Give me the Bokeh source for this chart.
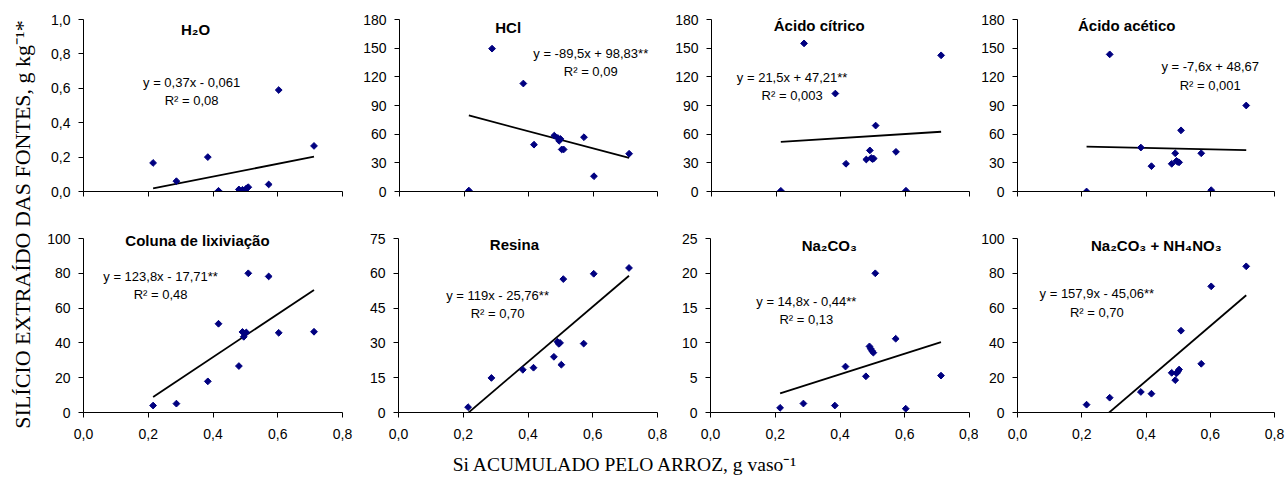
import numpy as np
from bokeh.plotting import figure
from bokeh.models import Range1d, FixedTicker, CustomJSTickFormatter, Label
from bokeh.layouts import row, column
from bokeh.embed import file_html
from bokeh.resources import INLINE

# ---------------- data ----------------
si_arroz = [0.215, 0.287, 0.384, 0.417, 0.480, 0.491, 0.495, 0.499, 0.503, 0.509, 0.572, 0.603, 0.712]

h2o = [0.166, 0.060, 0.200, 0.004, 0.012, 0.010, 0.003, 0.006, 0.018, 0.025, 0.041, 0.590, 0.265]
hcl = [1.0, 149.5, 113.0, 49.0, 58.5, 56.0, 53.0, 55.0, 44.0, 44.0, 56.8, 16.0, 39.5]
acido_citrico = [0.7, 155.0, 102.5, 29.0, 33.5, 43.0, 35.0, 34.0, 34.5, 69.0, 41.5, 0.8, 142.5]
acido_acetico = [0.0, 143.5, 46.0, 26.5, 29.0, 40.0, 32.0, 31.0, 30.5, 64.0, 40.0, 1.4, 90.0]
coluna = [4.0, 5.1, 17.9, 51.0, 26.7, 46.3, 43.5, 45.5, 46.0, 80.0, 78.2, 45.8, 46.4]
resina = [2.3, 14.9, 18.4, 19.3, 24.0, 30.5, 29.6, 30.0, 20.6, 57.5, 29.7, 59.8, 62.3]
na2co3 = [0.67, 1.29, 1.0, 6.6, 5.2, 9.5, 9.15, 8.85, 8.6, 20.0, 10.6, 0.55, 5.3]
na2co3_nh4no3 = [4.5, 8.5, 11.8, 10.8, 22.8, 18.6, 22.5, 23.5, 24.7, 47.0, 28.0, 72.5, 84.0]

series = [h2o, hcl, acido_citrico, acido_acetico, coluna, resina, na2co3, na2co3_nh4no3]
titles = ["H\u2082O", "HCl", "\u00c1cido c\u00edtrico", "\u00c1cido ac\u00e9tico",
          "Coluna de lixivia\u00e7\u00e3o", "Resina", "Na\u2082CO\u2083", "Na\u2082CO\u2083 + NH\u2084NO\u2083"]
slopes = [0.37, -89.5, 21.5, -7.6, 123.8, 119.0, 14.8, 157.9]
intercepts = [-0.061, 98.83, 47.21, 48.67, -17.71, -25.76, -0.44, -45.06]
equations = ["y = 0,37x - 0,061", "y = -89,5x + 98,83**", "y = 21,5x + 47,21**", "y = -7,6x + 48,67",
             "y = 123,8x - 17,71**", "y = 119x - 25,76**", "y = 14,8x - 0,44**", "y = 157,9x - 45,06**"]
r2_texts = ["R\u00b2 = 0,08", "R\u00b2 = 0,09", "R\u00b2 = 0,003", "R\u00b2 = 0,001",
            "R\u00b2 = 0,48", "R\u00b2 = 0,70", "R\u00b2 = 0,13", "R\u00b2 = 0,70"]

x_ticks = [0.0, 0.2, 0.4, 0.6, 0.8]
x_tick_labels = ["0,0", "0,2", "0,4", "0,6", "0,8"]
y_ticks = [
    [0.0, 0.2, 0.4, 0.6, 0.8, 1.0],
    [0, 30, 60, 90, 120, 150, 180],
    [0, 30, 60, 90, 120, 150, 180],
    [0, 30, 60, 90, 120, 150, 180],
    [0, 20, 40, 60, 80, 100],
    [0, 15, 30, 45, 60, 75],
    [0, 5, 10, 15, 20, 25],
    [0, 20, 40, 60, 80, 100],
]
y_tick_labels = [
    ["0,0", "0,2", "0,4", "0,6", "0,8", "1,0"],
    ["0", "30", "60", "90", "120", "150", "180"],
    ["0", "30", "60", "90", "120", "150", "180"],
    ["0", "30", "60", "90", "120", "150", "180"],
    ["0", "20", "40", "60", "80", "100"],
    ["0", "15", "30", "45", "60", "75"],
    ["0", "5", "10", "15", "20", "25"],
    ["0", "20", "40", "60", "80", "100"],
]
y_label = "SIL\u00cdCIO EXTRA\u00cdDO DAS FONTES, g kg\u207b\u00b9*"
x_label = "Si ACUMULADO PELO ARROZ, g vaso\u207b\u00b9"

# ---------------- layout / annotation placement ----------------
col_borders = [(46, 18), (38, 15), (38, 9), (37, 12)]
frame_w = 259
# (top border, axis height in px, bottom border)
row_borders = [(7, 172, 19), (16, 174, 33)]
ext_px = 12          # free space inside the frame above the top tick (for titles)
ylab_w = 37

# (title x, title y, eq x, eq y, r2 y) in data units of each panel
placements = [
    (0.346, 0.942, 0.334, 0.634, 0.529),
    (0.337, 171.6, 0.593, 144.4, 125.6),
    (0.334, 173.7, 0.250, 119.3, 100.5),
    (0.340, 173.7, 0.600, 130.8, 110.9),
    (0.352, 98.9, 0.238, 78.2, 67.8),
    (0.358, 72.4, 0.306, 50.4, 42.7),
    (0.367, 24.0, 0.296, 15.9, 13.4),
    (0.432, 96.0, 0.247, 68.4, 57.5),
]

SANS = "Liberation Sans"
SERIF = "Liberation Serif"
NAVY = "#000080"

fmt_code = """
for (let i = 0; i < tvals.length; i++) {
  if (Math.abs(tvals[i] - tick) < 1e-6) { return tlabels[i]; }
}
return "";
"""


def make_panel(i):
    r, c = divmod(i, 4)
    bl, br = col_borders[c]
    bt, ah, bb = row_borders[r]
    yt = y_ticks[i]
    ymax = yt[-1]
    yend = ymax * (ah + ext_px) / ah
    p = figure(width=bl + frame_w + br, height=bt + ah + ext_px + bb,
               x_range=Range1d(0, 0.8), y_range=Range1d(0, yend),
               output_backend="svg", toolbar_location=None,
               min_border_left=bl, min_border_right=br,
               min_border_top=bt, min_border_bottom=bb)
    p.outline_line_color = None
    p.background_fill_color = "white"
    p.border_fill_color = "white"
    p.xgrid.visible = False
    p.ygrid.visible = False
    for ax in (p.xaxis[0], p.yaxis[0]):
        ax.axis_line_color = "black"
        ax.axis_line_width = 1
        ax.major_tick_line_color = "black"
        ax.major_tick_in = 0
        ax.major_tick_out = 5
        ax.minor_tick_line_color = None
        ax.major_label_text_font = SANS
        ax.major_label_text_font_size = "14px"
        ax.major_label_text_color = "black"
    p.yaxis.bounds = (0, ymax)
    p.yaxis.ticker = FixedTicker(ticks=yt)
    p.yaxis.formatter = CustomJSTickFormatter(args=dict(tvals=yt, tlabels=y_tick_labels[i]), code=fmt_code)
    p.yaxis.major_label_standoff = 8
    p.xaxis.ticker = FixedTicker(ticks=x_ticks)
    if r == 0:
        p.xaxis.formatter = CustomJSTickFormatter(args=dict(tvals=x_ticks, tlabels=[""] * len(x_ticks)), code=fmt_code)
        p.xaxis.major_label_text_font_size = "0px"
        p.xaxis.major_label_standoff = 0
    else:
        p.xaxis.formatter = CustomJSTickFormatter(args=dict(tvals=x_ticks, tlabels=x_tick_labels), code=fmt_code)
        p.xaxis.major_label_standoff = 11

    # regression line
    xs = np.array([min(si_arroz), max(si_arroz)])
    p.line(xs, slopes[i] * xs + intercepts[i], line_color="black", line_width=1.8)
    # points
    p.scatter(si_arroz, series[i], marker="square", angle=np.pi / 4, size=4.8,
              fill_color=NAVY, line_color=NAVY)

    tx, ty, ex, ey, ry = placements[i]
    p.add_layout(Label(x=tx, y=ty, text=titles[i], text_align="center", text_baseline="middle",
                       text_font=SANS, text_font_style="bold", text_font_size="15px", text_color="black"))
    p.add_layout(Label(x=ex, y=ey, text=equations[i], text_align="center", text_baseline="middle",
                       text_font=SANS, text_font_size="13px", text_color="black"))
    p.add_layout(Label(x=ex, y=ry, text=r2_texts[i], text_align="center", text_baseline="middle",
                       text_font=SANS, text_font_size="13px", text_color="black"))
    return p


panels = [make_panel(i) for i in range(8)]

grid_h = sum(a + b + ext_px + c for a, b, c in row_borders)
ylab = figure(width=ylab_w, height=grid_h, x_range=Range1d(0, ylab_w), y_range=Range1d(0, grid_h),
              output_backend="svg", toolbar_location=None, x_axis_location=None, y_axis_location=None,
              min_border_left=0, min_border_right=0, min_border_top=0, min_border_bottom=0)
ylab.outline_line_color = None
ylab.grid.visible = False
ylab.add_layout(Label(x=21.5, y=grid_h - 224, text=y_label, angle=np.pi / 2, text_align="center",
                      text_baseline="middle", text_font=SERIF, text_font_size="22px", text_color="black"))

total_w = ylab_w + sum(bl + frame_w + br for bl, br in col_borders)
xlab_h = 37
xlab = figure(width=total_w, height=xlab_h, x_range=Range1d(0, total_w), y_range=Range1d(0, xlab_h),
              output_backend="svg", toolbar_location=None, x_axis_location=None, y_axis_location=None,
              min_border_left=0, min_border_right=0, min_border_top=0, min_border_bottom=0)
xlab.outline_line_color = None
xlab.grid.visible = False
xlab.add_layout(Label(x=625, y=18, text=x_label, text_align="center", text_baseline="middle",
                      text_font=SERIF, text_font_size="19.5px", text_color="black"))

grid = column(row(*panels[:4]), row(*panels[4:]))
layout = column(row(ylab, grid), xlab)

open("out.html", "w").write(file_html(layout, INLINE))
